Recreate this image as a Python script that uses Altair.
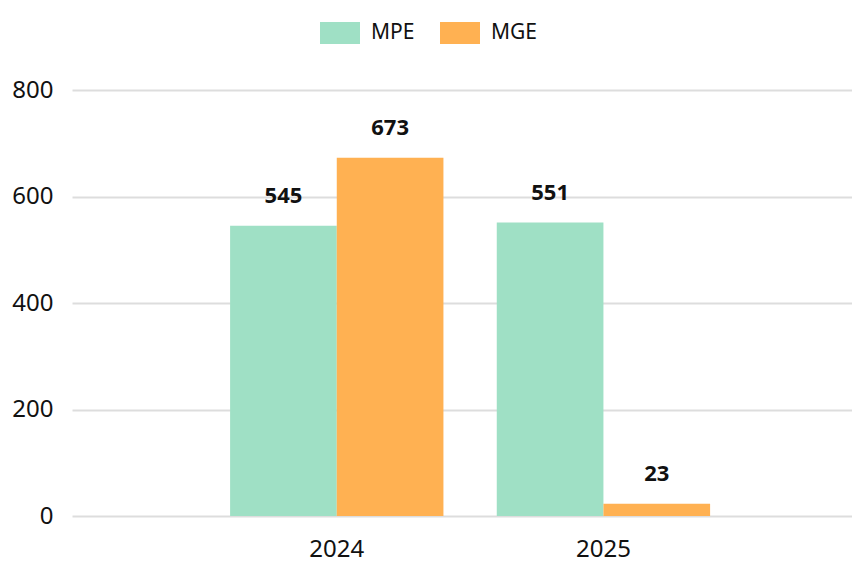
import altair as alt
import pandas as pd

years = ["2024", "2024", "2025", "2025"]
series = ["MPE", "MGE", "MPE", "MGE"]
values = [545, 673, 551, 23]

df = pd.DataFrame({"year": years, "series": series, "value": values})

font = "Noto Sans"
order = ["MPE", "MGE"]
colors = ["#9FE0C5", "#FFB152"]

base = alt.Chart(df).encode(
    x=alt.X("year:N", title=None,
            scale=alt.Scale(paddingInner=0.2, paddingOuter=0.5625, align=0.527),
            axis=alt.Axis(labelAngle=0, ticks=False, domain=False, grid=False,
                          labelFontSize=24, labelFont=font, labelColor="#111111",
                          labelPadding=21)),
    xOffset=alt.XOffset("series:N", sort=order, scale=alt.Scale(domain=order)),
)

bars = base.mark_bar().encode(
    y=alt.Y("value:Q", title=None,
            scale=alt.Scale(domain=[0, 800]),
            axis=alt.Axis(values=[0, 200, 400, 600, 800], ticks=False, domain=False,
                          gridColor="#DDDDDD", gridWidth=2,
                          labelFontSize=24, labelFont=font, labelColor="#111111",
                          labelPadding=19)),
    color=alt.Color("series:N", sort=order,
                    scale=alt.Scale(domain=order, range=colors),
                    legend=alt.Legend(title=None, orient="none", direction="horizontal",
                                      legendX=248, legendY=-77,
                                      symbolType="M-1,-0.55L1,-0.55L1,0.55L-1,0.55Z",
                                      symbolSize=1600, symbolStrokeWidth=0,
                                      symbolOpacity=1,
                                      labelFontSize=21, labelFont=font,
                                      labelColor="#111111", labelOffset=11,
                                      columnPadding=25, padding=0)),
)

labels = base.mark_text(baseline="bottom", dy=-18, fontSize=22, fontWeight="bold",
                        font=font, color="#111111").encode(
    y=alt.Y("value:Q"),
    text=alt.Text("value:Q"),
)

chart = alt.layer(bars, labels).properties(
    width=780, height=426,
    autosize=alt.AutoSizeParams(type="none"),
    padding={"left": 64, "top": 82, "right": 0, "bottom": 50},
).configure_view(stroke=None)

chart.save("out.html", embed_options={"renderer": "svg", "actions": False})
